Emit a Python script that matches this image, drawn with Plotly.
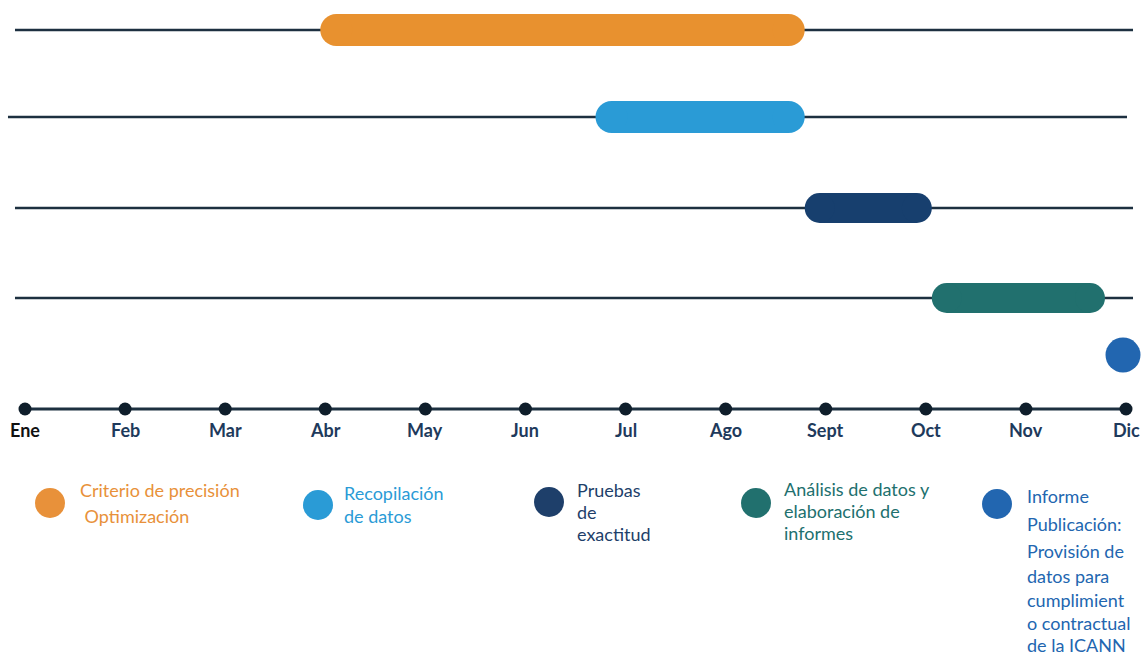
import plotly.graph_objects as go

# ---------------- data ----------------
MONTHS = ["Ene", "Feb", "Mar", "Abr", "May", "Jun", "Jul", "Ago", "Sept", "Oct", "Nov", "Dic"]
TASKS = ["Criterio de precisión Optimización", "Recopilación de datos",
         "Pruebas de exactitud", "Análisis de datos y elaboración de informes"]
TASK_START = [2.95, 5.70, 7.79, 9.06]   # month index (0 = Ene)
TASK_END = [7.79, 7.79, 9.06, 10.79]
PUBLISH_MONTH = 10.97                    # Informe / Publicación milestone

TASK_COLORS = ["#E8912F", "#2A9BD6", "#173F6E", "#21706E"]
PUBLISH_COLOR = "#2266B0"
LINE_COLOR = "#1D3040"

LEGEND_TEXT = [
    ["Criterio de precisión", " Optimización"],
    ["Recopilación", "de datos"],
    ["Pruebas", "de", "exactitud"],
    ["Análisis de datos y", "elaboración de", "informes"],
    ["Informe", "Publicación:", "Provisión de", "datos para", "cumplimient", "o contractual", "de la ICANN"],
]
LEGEND_COLORS = ["#E8913A", "#2A9BD6", "#1E3F6A", "#21706E", "#2266B0"]

# ---------------- layout helpers ----------------
W, H = 1141, 657
X0_PX, X11_PX = 25, 1126
PX_PER_MONTH = (X11_PX - X0_PX) / 11
XR = [-X0_PX / PX_PER_MONTH, (W - X0_PX) / PX_PER_MONTH]
AXIS_PX = 409
PX_PER_Y = 89.33
YR = [-(H - AXIS_PX) / PX_PER_Y, AXIS_PX / PX_PER_Y]

def ypx(p):
    """picture pixel row -> y data value"""
    return (AXIS_PX - p) / PX_PER_Y

def xpap(p):
    return p / W

def ypap(p):
    return 1 - p / H

ROW_PX = [30, 117, 208, 298]
ROW_THICK = [32, 32, 30, 30]
ROW_LINE_X = [(-0.10, 11.07), (-0.17, 11.01), (-0.10, 11.07), (-0.10, 11.07)]

fig = go.Figure()

# background rows
for i in range(len(TASKS)):
    y = ypx(ROW_PX[i])
    fig.add_trace(go.Scatter(x=list(ROW_LINE_X[i]), y=[y, y], mode="lines",
                             line=dict(color=LINE_COLOR, width=2.3),
                             hoverinfo="skip", showlegend=False))

# task pills
for i in range(len(TASKS)):
    y = ypx(ROW_PX[i])
    r = ROW_THICK[i] / 2 / PX_PER_MONTH
    xs = [TASK_START[i] + r, TASK_END[i] - r]
    fig.add_trace(go.Scatter(x=xs, y=[y, y], mode="lines+markers",
                             line=dict(color=TASK_COLORS[i], width=ROW_THICK[i]),
                             marker=dict(size=ROW_THICK[i], color=TASK_COLORS[i], line=dict(width=0)),
                             name=TASKS[i], hoverinfo="name", showlegend=False))

# publication milestone
fig.add_trace(go.Scatter(x=[PUBLISH_MONTH], y=[ypx(355)], mode="markers",
                         marker=dict(size=35, color=PUBLISH_COLOR, line=dict(width=0)),
                         name="Informe", showlegend=False))

# time axis
fig.add_trace(go.Scatter(x=[0, len(MONTHS) - 1], y=[0, 0], mode="lines",
                         line=dict(color=LINE_COLOR, width=3), hoverinfo="skip", showlegend=False))
fig.add_trace(go.Scatter(x=list(range(len(MONTHS))), y=[0] * len(MONTHS), mode="markers",
                         marker=dict(size=13, color="#0F1E2B", line=dict(width=0)),
                         hoverinfo="skip", showlegend=False))

annotations = []
for i, m in enumerate(MONTHS):
    annotations.append(dict(x=i, y=ypx(430), xref="x", yref="y", text=f"<b>{m}</b>",
                            showarrow=False, xanchor="center", yanchor="middle",
                            font=dict(family="Lato", size=18,
                                      color="#111111" if i == 0 else "#1E3A5C")))

# custom legend
LEG_DOT_PX = [(50, 503), (318, 505), (549, 502), (756, 503), (997, 504)]
LEG_TEXT_X = [78, 342, 575, 782, 1025]
LEG_LINE_Y = [
    [490, 516],
    [493, 516],
    [490, 512, 534],
    [489, 511, 533],
    [496, 524, 551, 576, 600, 623, 645],
]
shapes = []
for k in range(5):
    cx, cy = LEG_DOT_PX[k]
    rad = 15
    shapes.append(dict(type="circle", xref="paper", yref="paper",
                       x0=xpap(cx - rad), x1=xpap(cx + rad),
                       y0=ypap(cy + rad), y1=ypap(cy - rad),
                       fillcolor=LEGEND_COLORS[k], line=dict(width=0)))
    for t, ly in zip(LEGEND_TEXT[k], LEG_LINE_Y[k]):
        annotations.append(dict(x=xpap(LEG_TEXT_X[k]), y=ypap(ly), xref="paper", yref="paper",
                                text=t, showarrow=False, xanchor="left", yanchor="middle",
                                font=dict(family="Lato", size=18, color=LEGEND_COLORS[k])))

fig.update_layout(
    width=W, height=H, autosize=False,
    margin=dict(l=0, r=0, t=0, b=0),
    plot_bgcolor="white", paper_bgcolor="white",
    xaxis=dict(range=XR, visible=False, fixedrange=True),
    yaxis=dict(range=YR, visible=False, fixedrange=True),
    annotations=annotations, shapes=shapes, showlegend=False,
)

fig.write_html("out.html", config={"displayModeBar": False},
               post_script="document.body.style.margin='0';document.body.style.overflow='hidden';")
